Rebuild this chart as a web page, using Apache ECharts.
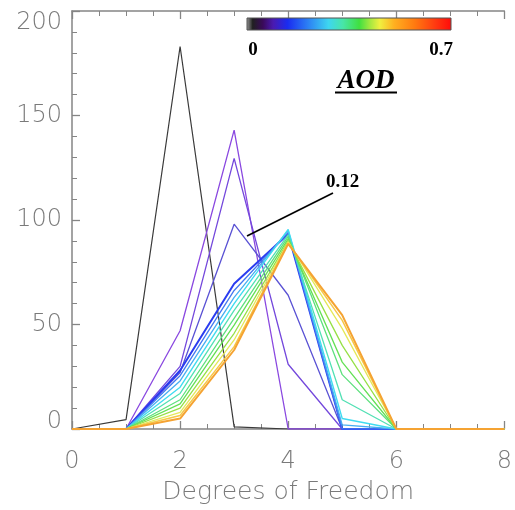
<!DOCTYPE html>
<html>
<head>
<meta charset="utf-8">
<script src="https://cdn.jsdelivr.net/npm/echarts@6/dist/echarts.min.js"></script>
<style>
html,body{margin:0;padding:0;background:#fff;}
#chart{width:515px;height:510px;}
</style>
</head>
<body>
<div id="chart"></div>
<script>
// Degrees of freedom (x) and histogram counts for each AOD bin
const xValues = [0, 1, 2, 3, 4, 5, 6, 7, 8];
const aod000 = [0, 4.5, 183, 1, 0, 0, 0, 0, 0];
const aod004 = [0, 0, 47, 143, 0, 0, 0, 0, 0];
const aod008 = [0, 0, 30, 129.5, 31, 0, 0, 0, 0];
const aod012 = [0, 0, 27, 98, 64, 0, 0, 0, 0];
const aod016 = [0, 0, 28, 69.5, 93.3, 0, 0, 0, 0];
const aod020 = [0, 0, 25.5, 66.3, 94, 0, 0, 0, 0];
const aod025 = [0, 0, 23, 63, 95, 2, 0, 0, 0];
const aod030 = [0, 0, 20, 60, 95.5, 5, 0, 0, 0];
const aod035 = [0, 0, 17, 56.8, 93, 14, 0, 0, 0];
const aod040 = [0, 0, 14, 52.9, 92, 26, 0, 0, 0];
const aod045 = [0, 0, 12, 49.7, 91, 32, 0, 0, 0];
const aod050 = [0, 0, 10, 45.8, 90, 40, 0, 0, 0];
const aod055 = [0, 0, 8, 42.6, 89.5, 48, 0, 0, 0];
const aod060 = [0, 0, 6.5, 39.4, 89, 52, 0, 0, 0];
const aod065 = [0, 0, 5, 37.8, 88.6, 54.5, 0, 0, 0];

const seriesValues = [aod000, aod004, aod008, aod012, aod016, aod020, aod025, aod030,
  aod035, aod040, aod045, aod050, aod055, aod060, aod065];
const seriesColors = ['#3a3a3a', '#8a48e0', '#7448dc', '#5a52d4', '#2a3cf0', '#4478f0',
  '#48aef2', '#40dcf0', '#52e0b4', '#5ee07e', '#64e056', '#96e046', '#e4e858', '#f6c848', '#f5a332'];
const seriesWidths = [1.2, 1.3, 1.3, 1.3, 2, 1.3, 1.3, 1.4, 1.3, 1.3, 1.3, 1.3, 1.3, 1.5, 2];

const xTickLabels = ['0', '2', '4', '6', '8'];
const yTickLabels = ['0', '50', '100', '150', '200'];
const cbarLabels = ['0', '0.7'];

const chart = echarts.init(document.getElementById('chart'), null, {renderer: 'canvas'});

const axisGray = '#858585';
const labelGray = '#7a7a7a';
const tickFont = 'DejaVu Sans';

const series = seriesValues.map((vals, i) => ({
  type: 'line',
  data: xValues.map((x, j) => [x, vals[j]]),
  symbol: 'none',
  smooth: false,
  lineStyle: {color: seriesColors[i], width: seriesWidths[i]},
  itemStyle: {color: seriesColors[i]},
  z: 2 + i,
  animation: false
}));

const option = {
  animation: false,
  backgroundColor: '#ffffff',
  grid: {left: 72, right: 7, top: 11, bottom: 79, containLabel: false},
  xAxis: [{
    type: 'value', min: 0, max: 8, interval: 2,
    name: 'Degrees of Freedom', nameLocation: 'middle', nameGap: 51,
    nameTextStyle: {color: labelGray, fontFamily: tickFont, fontSize: 25, fontWeight: 200},
    axisLine: {show: true, onZero: false, lineStyle: {color: axisGray, width: 1.5}},
    axisTick: {show: true, inside: true, length: 8, lineStyle: {color: axisGray, width: 1.3}},
    minorTick: {show: true, splitNumber: 4, length: 5, lineStyle: {color: axisGray, width: 1}},
    splitLine: {show: false},
    axisLabel: {
      color: labelGray, fontFamily: tickFont, fontSize: 24, fontWeight: 200, margin: 21,
      formatter: v => xTickLabels[Math.round(v / 2)] ?? ''
    }
  }, {
    type: 'value', min: 0, max: 8, interval: 2, position: 'top',
    axisLine: {show: true, onZero: false, lineStyle: {color: axisGray, width: 1.5}},
    axisTick: {show: true, inside: true, length: 8, lineStyle: {color: axisGray, width: 1.3}},
    minorTick: {show: true, splitNumber: 4, length: 5, lineStyle: {color: axisGray, width: 1}},
    splitLine: {show: false},
    axisLabel: {show: false}
  }],
  yAxis: [{
    type: 'value', min: 0, max: 200, interval: 50,
    axisLine: {show: true, onZero: false, lineStyle: {color: axisGray, width: 1.5}},
    axisTick: {show: true, inside: true, length: 8, lineStyle: {color: axisGray, width: 1.3}},
    minorTick: {show: true, splitNumber: 5, length: 5, lineStyle: {color: axisGray, width: 1}},
    splitLine: {show: false},
    axisLabel: {
      color: labelGray, fontFamily: tickFont, fontSize: 24, fontWeight: 200, margin: 10,
      verticalAlignMaxLabel: 'top', verticalAlignMinLabel: 'bottom',
      formatter: v => {
        const t = yTickLabels[Math.round(v / 50)] ?? '';
        return v === 0 ? '{z|' + t + '}' : t;
      },
      rich: {
        z: {color: labelGray, fontFamily: tickFont, fontSize: 24, fontWeight: 200, lineHeight: 14}
      }
    }
  }],
  series: series,
  graphic: [
    {
      type: 'rect', shape: {x: 247, y: 18, width: 204, height: 12}, z: 50,
      style: {
        stroke: '#555', lineWidth: 1,
        fill: new echarts.graphic.LinearGradient(0, 0, 1, 0, [
          {offset: 0, color: '#9a9a9a'},
          {offset: 0.03, color: '#202020'},
          {offset: 0.08, color: '#3a0a5a'},
          {offset: 0.13, color: '#4a1ab0'},
          {offset: 0.2, color: '#1a2cf0'},
          {offset: 0.3, color: '#2c80f4'},
          {offset: 0.4, color: '#3ed6f0'},
          {offset: 0.47, color: '#48e6a8'},
          {offset: 0.55, color: '#40e040'},
          {offset: 0.6, color: '#a0e840'},
          {offset: 0.65, color: '#f0f040'},
          {offset: 0.72, color: '#ffb020'},
          {offset: 0.82, color: '#ff7a10'},
          {offset: 0.92, color: '#ff3a10'},
          {offset: 1, color: '#ff0a0a'}
        ])
      }
    },
    {
      type: 'text', x: 253, y: 50, z: 50,
      style: {text: cbarLabels[0], font: 'bold 19px "Liberation Serif"', fill: '#000', align: 'center', verticalAlign: 'middle'}
    },
    {
      type: 'text', x: 441, y: 50, z: 50,
      style: {text: cbarLabels[1], font: 'bold 19px "Liberation Serif"', fill: '#000', align: 'center', verticalAlign: 'middle'}
    },
    {
      type: 'text', x: 366, y: 81, z: 50,
      style: {text: 'AOD', font: 'italic bold 27px "Liberation Serif"', fill: '#000', align: 'center', verticalAlign: 'middle'}
    },
    {
      type: 'line', z: 50, shape: {x1: 335, y1: 92.5, x2: 397, y2: 92.5},
      style: {stroke: '#000', lineWidth: 2}
    },
    {
      type: 'line', z: 50, shape: {x1: 247, y1: 236, x2: 333, y2: 193},
      style: {stroke: '#000', lineWidth: 1.8}
    },
    {
      type: 'text', x: 326, y: 182, z: 50,
      style: {text: '0.12', font: 'bold 19px "Liberation Serif"', fill: '#000', align: 'left', verticalAlign: 'middle'}
    }
  ]
};

chart.setOption(option);
</script>
</body>
</html>
